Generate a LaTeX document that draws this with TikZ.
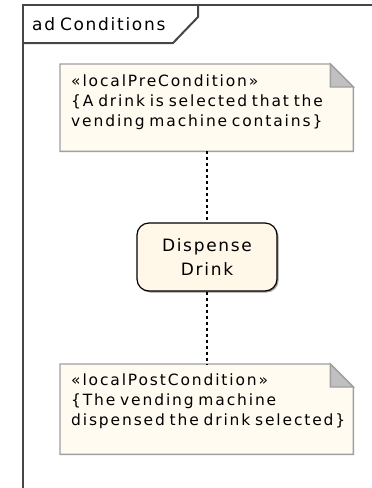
\documentclass[tikz,border=0pt]{standalone}
\usepackage{fontspec}
\newfontfamily\umlfont[LetterSpace=10,WordSpace=0.7]{DejaVu Sans}
\newfontfamily\notefont[LetterSpace=12,WordSpace=0.7]{DejaVu Sans}
\usetikzlibrary{shadows}
\definecolor{notefill}{RGB}{255,251,240}
\definecolor{noteline}{RGB}{160,160,160}
\definecolor{foldfill}{RGB}{192,192,192}
\definecolor{actfill}{RGB}{255,248,232}
\definecolor{frameline}{RGB}{70,70,70}
\tikzset{
  framestroke/.style={draw=frameline, line width=2pt},
  notebg/.style={rectangle, draw=none, inner sep=0pt, anchor=north west, minimum width=293pt},
  notestroke/.style={draw=noteline, fill=notefill, line width=1.4pt, line join=miter},
  foldstroke/.style={draw=noteline, fill=foldfill, line width=1.4pt, line join=miter},
  notetext/.style={anchor=north west, inner sep=0pt, align=left, font=\notefont\fontsize{15.5}{20}\selectfont},
  titletext/.style={anchor=base west, inner sep=0pt, font=\umlfont\fontsize{17}{20}\selectfont},
  actbox/.style={rectangle, rounded corners=12pt, draw=black, line width=1.2pt, fill=actfill,
    minimum width=140pt, minimum height=68pt, align=center, inner sep=0pt,
    font=\umlfont\fontsize{17}{24}\selectfont,
    drop shadow={shadow xshift=1.5pt, shadow yshift=-1.5pt, fill=black!40, opacity=1}},
  depend/.style={draw=black, line width=1.1pt, dash pattern=on 3pt off 3pt},
}
\newcommand\drawnote[1]{%
  \path[notestroke] (#1.north west) -- ([xshift=-23pt]#1.north east) -- ([yshift=-23pt]#1.north east)
    -- (#1.south east) -- (#1.south west) -- cycle;
  \path[foldstroke] ([xshift=-23pt]#1.north east) -- ([xshift=-23pt,yshift=-23pt]#1.north east)
    -- ([yshift=-23pt]#1.north east) -- cycle;}
\begin{document}
\begin{tikzpicture}[x=1pt, y=-1pt]
\useasboundingbox (0,0) rectangle (372,488);
% frame
\draw[framestroke] (23,488) -- (23,5) -- (372,5);
\draw[framestroke] (23,43) -- (173,43) -- (198,17) -- (198,5);
\node[titletext] (title) at (32,30) {ad Conditions};
% notes
\node[notebg, minimum height=87pt] (pre) at (60,64) {};
\drawnote{pre}
\node[notetext] (pretext) at ([xshift=11pt, yshift=-10.5pt]pre.north west)
  {\rule{0pt}{12pt}«localPreCondition»\\\{A drink is selected that the\\vending machine contains\}};
\node[notebg, minimum height=90pt] (post) at (60,364) {};
\drawnote{post}
\node[notetext] (posttext) at ([xshift=11pt, yshift=-9.5pt]post.north west)
  {\rule{0pt}{12pt}«localPostCondition»\\\{The vending machine\\dispensed the drink selected\}};
% action
\node[actbox] (act) at (207,257) {Dispense\\Drink};
% connectors
\draw[depend] (pre.south -| act.north) -- (act.north);
\draw[depend] (act.south) -- (act.south |- post.north);
\end{tikzpicture}
\end{document}
